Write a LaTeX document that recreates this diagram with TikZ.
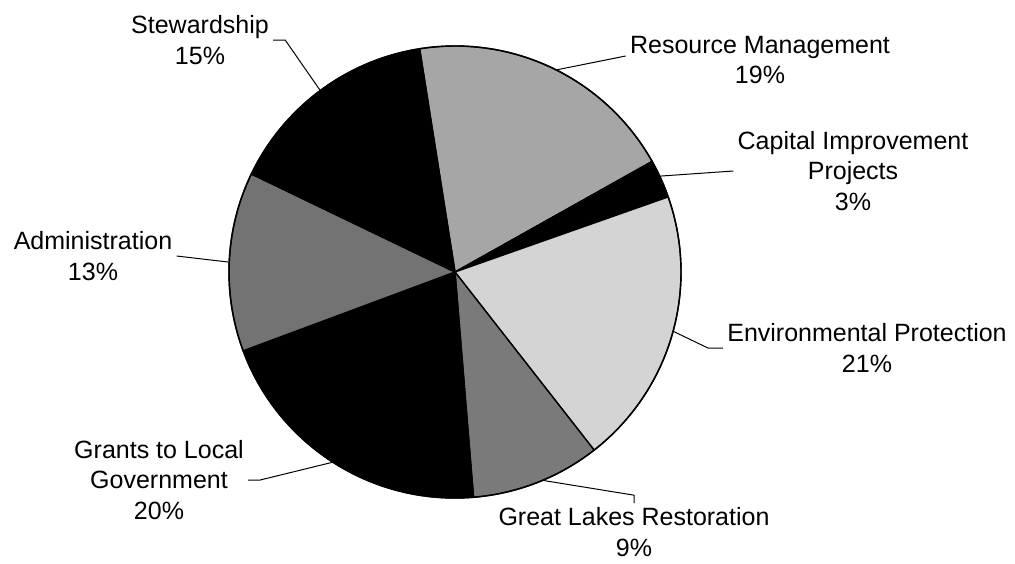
\documentclass[tikz,border=0pt]{standalone}
\usepackage{fontspec}
\setmainfont{Liberation Sans}
\usetikzlibrary{calc,positioning}

\begin{document}
\begin{tikzpicture}[x=0.5pt,y=0.5pt,
    lbl/.style={align=center, font=\fontsize{12.5}{15.25}\selectfont, inner sep=2pt},
    leader/.style={draw, line width=0.5pt},
    slice/.style={draw, line width=0.7pt}]
  \useasboundingbox (-455,-291) rectangle (560,272);
  \def\R{226}
  % slices, going round from the top
  \filldraw[slice, fill=black!35] (0,0) -- (29.3:\R) arc[start angle=29.3, end angle=99, radius=\R] -- cycle;
  \filldraw[slice, fill=black] (0,0) -- (19.4:\R) arc[start angle=19.4, end angle=29.3, radius=\R] -- cycle;
  \filldraw[slice, fill=black!17] (0,0) -- (-52:\R) arc[start angle=-52, end angle=19.4, radius=\R] -- cycle;
  \filldraw[slice, fill=black!52] (0,0) -- (-85.3:\R) arc[start angle=-85.3, end angle=-52, radius=\R] -- cycle;
  \filldraw[slice, fill=black] (0,0) -- (-159.6:\R) arc[start angle=-159.6, end angle=-85.3, radius=\R] -- cycle;
  \filldraw[slice, fill=black!55] (0,0) -- (154.3:\R) arc[start angle=154.3, end angle=200.4, radius=\R] -- cycle;
  \filldraw[slice, fill=black] (0,0) -- (99:\R) arc[start angle=99, end angle=154.3, radius=\R] -- cycle;
  \draw[slice] (0,0) circle[radius=\R];

  % points on the rim where the leaders end
  \coordinate (rstew) at (126.6:\R);
  \coordinate (rres) at (63.4:\R);
  \coordinate (rcap) at (25.1:\R);
  \coordinate (renv) at (-15.2:\R);
  \coordinate (rglr) at (-67.2:\R);
  \coordinate (rgrants) at (237.3:\R);
  \coordinate (radm) at (177.5:\R);

  % labels
  \node(stew) [lbl] at (-255,232) {Stewardship\\15\%};
  \node(res) [lbl] at (305,212) {Resource Management\\19\%};
  \node(cap) [lbl] at (398,101) {Capital Improvement\\Projects\\3\%};
  \node(env) [lbl] at (412,-76) {Environmental Protection\\21\%};
  \node(glr) [lbl] at (179,-260) {Great Lakes Restoration\\9\%};
  \node(grants) [lbl] at (-296,-208) {Grants to Local\\Government\\20\%};
  \node(adm) [lbl] at (-362,16) {Administration\\13\%};

  \draw[leader] (stew.east) -- ++(12,0) -- (rstew);
  \draw[leader] ([yshift=2]res.west) -- (rres);
  \draw[leader] (cap.west) -- (rcap);
  \draw[leader] (env.west) -- ++(-15,0) -- (renv);
  \draw[leader] (glr.north) -- ++(0,8) -- (rglr);
  \draw[leader] (grants.east) -- ++(12,0) -- (rgrants);
  \draw[leader] (adm.east) -- (radm);
\end{tikzpicture}
\end{document}
